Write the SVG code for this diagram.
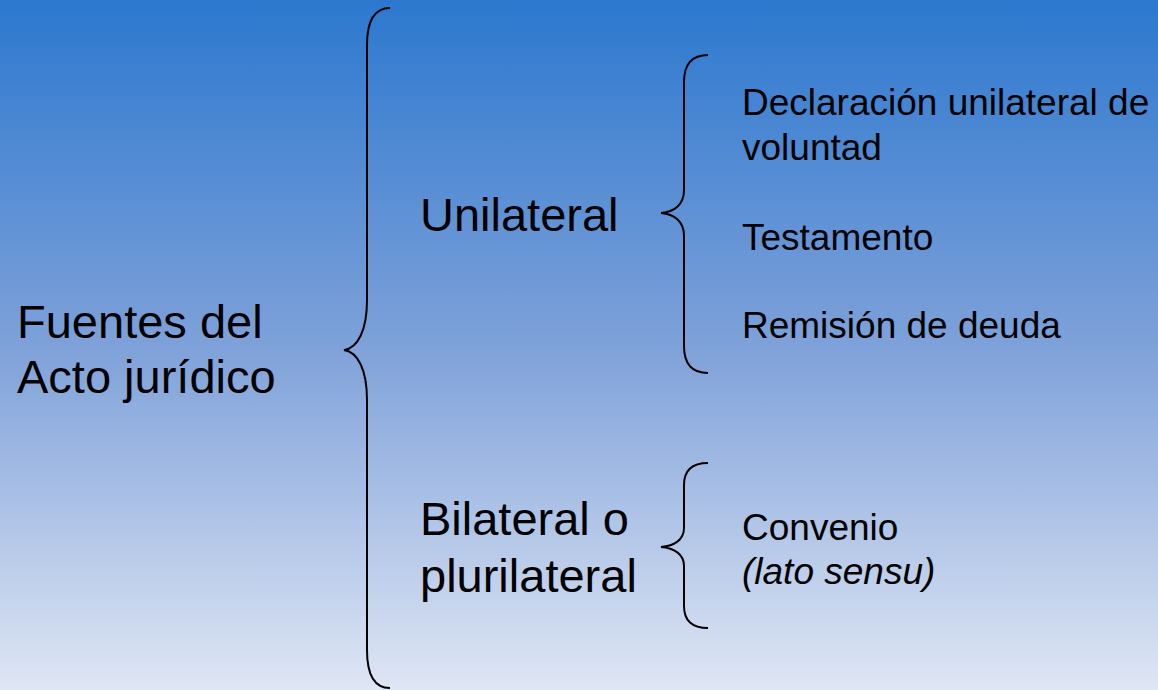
<svg xmlns="http://www.w3.org/2000/svg" width="1158" height="690" viewBox="0 0 1158 690">
<defs>
<linearGradient id="bg" x1="0" y1="0" x2="0" y2="1">
<stop offset="0" stop-color="#2c78cf"/>
<stop offset="0.5" stop-color="#7ea1d9"/>
<stop offset="1" stop-color="#dfe6f4"/>
</linearGradient>
<style>
text{font-family:"Liberation Sans",Arial,sans-serif;fill:#000}
.l{font-size:47px}
.s{font-size:37px}
.brace{fill:none;stroke:#000;stroke-width:2}
</style>
</defs>
<rect width="1158" height="690" fill="url(#bg)"/>
<g id="connectors">
<path class="brace" d="M390,8 C375,8 367,20 367,45 L367,300 C367,330 358,348 344,350 C358,352 367,370 367,400 L367,650 C367,675 375,688 390,688"/>
<path class="brace" d="M708,55 C692,55 684,64 684,82 L684,190 C684,205 674,212 661,213 C674,214 684,221 684,236 L684,346 C684,364 692,373 708,373"/>
<path class="brace" d="M708,463 C692,463 684,470 684,485 L684,528 C684,540 674,546 661,547 C674,548 684,554 684,566 L684,606 C684,621 692,628 708,628"/>
</g>
<g id="root"><text class="l" x="17" y="338">Fuentes del</text><text class="l" x="17" y="393">Acto jurídico</text></g>
<g id="unilateral"><text class="l" x="420" y="231">Unilateral</text></g>
<g id="bilateral"><text class="l" x="420" y="535">Bilateral o</text><text class="l" x="420" y="592">plurilateral</text></g>
<g id="declaracion"><text class="s" x="742" y="115">Declaración unilateral de</text><text class="s" x="742" y="160">voluntad</text></g>
<g id="testamento"><text class="s" x="742" y="250">Testamento</text></g>
<g id="remision"><text class="s" x="742" y="338">Remisión de deuda</text></g>
<g id="convenio"><text class="s" x="742" y="540">Convenio</text><text class="s" x="742" y="584" font-style="italic">(lato sensu)</text></g>
</svg>
